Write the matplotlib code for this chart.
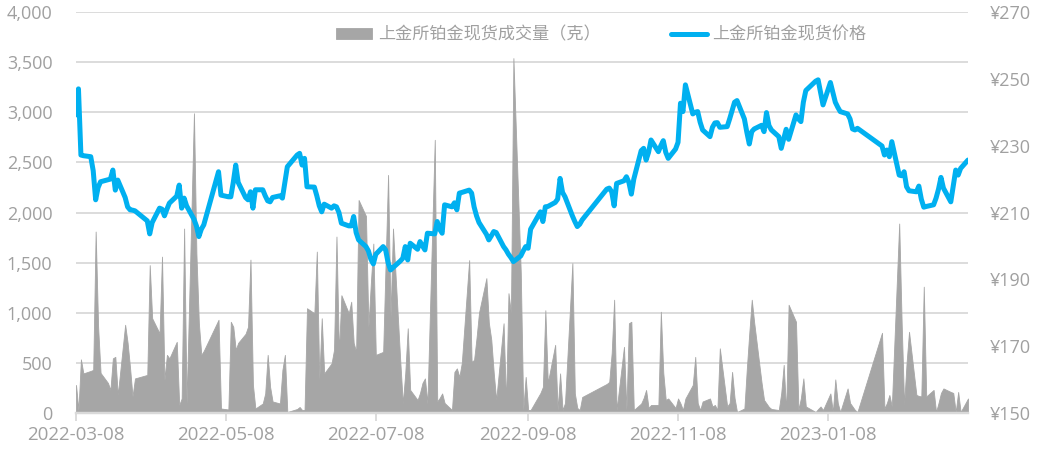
import matplotlib
matplotlib.use("Agg")
import matplotlib.pyplot as plt
import pandas as pd
from matplotlib.ticker import FuncFormatter, FixedLocator

plt.rcParams['font.family'] = ['Noto Sans CJK SC', 'DejaVu Sans']

# ---------------- data ----------------
dates_2022 = [
    "03-08","03-09","03-10","03-11","03-14","03-15","03-16","03-17","03-18","03-21","03-22","03-23","03-24","03-25",
    "03-28","03-29","03-30","03-31","04-01","04-06","04-07","04-08","04-11","04-12","04-13","04-14","04-15",
    "04-18","04-19","04-20","04-21","04-22","04-25","04-26","04-27","04-28","04-29","05-05","05-06",
    "05-09","05-10","05-11","05-12","05-13","05-16","05-17","05-18","05-19","05-20","05-23","05-24","05-25","05-26","05-27",
    "05-30","05-31","06-01","06-02","06-06","06-07","06-08","06-09","06-10","06-13","06-14","06-15","06-16","06-17",
    "06-20","06-21","06-22","06-23","06-24","06-27","06-28","06-29","06-30","07-01","07-04","07-05","07-06","07-07","07-08",
    "07-11","07-12","07-13","07-14","07-15","07-18","07-19","07-20","07-21","07-22","07-25","07-26","07-27","07-28","07-29",
    "08-01","08-02","08-03","08-04","08-05","08-08","08-09","08-10","08-11","08-12","08-15","08-16","08-17","08-18","08-19",
    "08-22","08-23","08-24","08-25","08-26","08-29","08-30","08-31","09-01","09-02","09-05","09-06","09-07","09-08","09-09",
    "09-13","09-14","09-15","09-16","09-19","09-20","09-21","09-22","09-23","09-26","09-27","09-28","09-29","09-30",
    "10-10","10-11","10-12","10-13","10-14","10-17","10-18","10-19","10-20","10-21","10-24","10-25","10-26","10-27","10-28",
    "10-31","11-01","11-02","11-03","11-04","11-07","11-08","11-09","11-10","11-11","11-14","11-15","11-16","11-17","11-18",
    "11-21","11-22","11-23","11-24","11-25","11-28","11-29","11-30","12-01","12-02","12-05","12-06","12-07","12-08","12-09",
    "12-12","12-13","12-14","12-15","12-16","12-19","12-20","12-21","12-22","12-23","12-26","12-27","12-28","12-29","12-30",
]
dates_2023 = [
    "01-03","01-04","01-05","01-06","01-09","01-10","01-11","01-12","01-13","01-16","01-17","01-18","01-19","01-20",
    "01-30","01-31","02-01","02-02","02-03","02-06","02-07","02-08","02-09","02-10","02-13","02-14","02-15","02-16","02-17",
    "02-20","02-21","02-22","02-23","02-24","02-27","02-28","03-01","03-02","03-03","03-06",
]

price = [
    239.2,247.0,227.2,227.0,226.7,222.5,213.8,217.5,219.2,219.8,220.0,222.7,216.7,219.7,
    214.5,211.7,210.8,210.7,210.5,207.5,203.6,207.0,211.3,211.0,209.0,211.0,212.8,
    214.9,218.2,211.3,214.3,212.0,208.0,206.0,202.8,205.0,206.3,222.2,215.2,
    214.7,214.7,219.0,224.2,219.0,214.5,213.8,216.2,211.3,216.8,216.8,215.0,213.5,213.2,214.5,
    215.0,214.3,219.0,223.7,227.2,227.7,224.2,226.2,217.7,217.6,215.0,212.0,210.2,212.5,
    211.3,212.0,211.7,210.0,206.8,206.0,206.0,208.8,204.0,201.8,199.8,198.5,196.0,194.6,197.5,
    199.8,198.8,195.0,192.8,193.5,195.5,196.3,199.8,195.8,200.8,199.0,201.3,200.0,198.8,203.8,
    203.6,207.3,205.0,203.8,212.3,211.7,212.9,210.8,215.8,216.0,216.7,215.8,211.7,209.0,207.0,
    203.5,201.8,203.0,204.3,204.0,199.8,198.8,197.5,196.5,195.3,197.0,198.5,199.8,199.3,205.0,
    210.2,207.3,211.7,211.8,213.0,214.0,220.2,216.0,214.7,209.0,207.3,205.8,206.5,207.8,
    217.0,217.3,216.2,212.0,218.7,219.5,220.7,219.0,215.5,220.0,228.5,229.2,225.7,228.0,231.7,
    228.2,230.0,231.5,228.0,226.2,229.0,231.0,242.7,240.2,248.2,239.5,240.0,240.2,237.0,234.7,
    232.7,235.5,236.8,236.9,235.5,235.7,238.0,240.5,243.0,243.5,238.0,234.0,230.5,234.2,235.0,
    236.1,234.2,239.9,236.0,234.7,232.7,229.2,232.0,234.9,231.9,239.2,238.0,237.2,243.0,246.5,
    249.3,249.7,246.0,242.2,248.9,246.0,243.0,241.5,240.2,239.5,238.0,235.0,234.7,235.2,
    229.9,227.2,228.7,226.7,231.2,221.2,221.0,222.2,217.7,216.5,216.2,217.9,214.0,211.6,211.8,
    212.3,214.3,217.0,220.5,217.3,213.2,218.0,222.7,221.2,223.2,225.7,
]

volume = [
    280,30,535,395,420,430,1810,860,400,300,230,545,560,180,
    880,700,450,165,345,380,1475,945,795,1560,330,580,545,
    710,80,145,1840,95,2990,1590,895,580,620,930,45,
    35,910,860,630,700,790,860,1530,280,45,95,195,580,260,115,
    95,430,580,10,40,60,30,30,1045,995,1610,330,945,395,
    495,630,1760,595,1175,995,1110,700,610,2125,1965,860,1300,1690,580,
    610,1500,2375,960,1840,500,95,400,845,230,130,200,300,345,95,
    2725,115,150,195,100,30,410,445,360,500,1525,510,530,750,1000,
    1345,900,730,400,130,895,95,1195,995,3540,1400,30,360,30,30,
    200,260,1025,300,680,30,395,30,100,1495,195,50,30,160,
    290,310,600,1130,30,660,30,895,910,30,95,150,230,50,80,
    80,1010,400,130,145,50,145,95,30,145,280,560,100,30,115,
    145,65,80,30,645,65,100,410,150,10,45,445,800,1130,900,
    300,130,95,60,40,30,200,480,10,1080,910,30,150,345,65,
    10,40,65,30,195,10,335,100,10,245,100,65,30,10,
    800,45,100,180,65,1890,900,80,500,810,180,170,165,1260,165,
    230,10,100,200,245,210,200,10,210,10,145,
]

x_tick_labels = ["2022-03-08", "2022-05-08", "2022-07-08", "2022-09-08", "2022-11-08", "2023-01-08"]
vol_ticks = [0, 500, 1000, 1500, 2000, 2500, 3000, 3500, 4000]
price_ticks = [150, 170, 190, 210, 230, 250, 270]

vol_label = "上金所铂金现货成交量（克）"
price_label = "上金所铂金现货价格"

# ---------------- plot ----------------
dates = pd.to_datetime(["2022-" + d for d in dates_2022] + ["2023-" + d for d in dates_2023])

GRAY_TXT = "#a0a0a0"
GRID = "#d9d9d9"
FILL = "#a6a6a6"
BLUE = "#00b0f0"
TICK_FONT = ['Open Sans', 'DejaVu Sans']

fig = plt.figure(figsize=(10.41, 4.58), dpi=100)
ax = fig.add_axes([76/1041, 1-413/458, (968-76)/1041, (413-12)/458])
ax2 = ax.twinx()

ax.fill_between(dates, volume, 0, color=FILL, linewidth=0.6, edgecolor=FILL, zorder=2,
                label=vol_label)
ax2.plot(dates, price, color=BLUE, linewidth=3.6, solid_joinstyle='round',
         solid_capstyle='round', zorder=3, label=price_label)

ax.set_xlim(dates[0], dates[-1])
ax.set_ylim(0, 4000)
ax2.set_ylim(150, 270)

ax.yaxis.set_major_locator(FixedLocator(vol_ticks))
ax.yaxis.set_major_formatter(FuncFormatter(lambda v, p: f"{int(v):,}"))
ax2.yaxis.set_major_locator(FixedLocator(price_ticks))
ax2.yaxis.set_major_formatter(FuncFormatter(lambda v, p: f"¥{int(v)}"))

xt = pd.to_datetime(x_tick_labels)
ax.set_xticks(xt)
ax.set_xticklabels(x_tick_labels)

ax.grid(axis='y', color=GRID, linewidth=1.3, zorder=0)
ax.set_axisbelow(True)

for a in (ax, ax2):
    for s in ("top", "left", "right"):
        a.spines[s].set_visible(False)
    a.spines["bottom"].set_color(GRID)
    a.spines["bottom"].set_linewidth(1.6)

ax.tick_params(axis='y', length=0, labelsize=13, labelcolor=GRAY_TXT, pad=17)
ax2.tick_params(axis='y', length=0, labelsize=13, labelcolor=GRAY_TXT, pad=16)
ax.tick_params(axis='x', length=6, width=1.3, color=GRID, labelsize=13.5,
               labelcolor=GRAY_TXT, pad=3)
for lbl in ax.get_xticklabels() + ax.get_yticklabels() + ax2.get_yticklabels():
    lbl.set_fontfamily(TICK_FONT)

h1, l1 = ax.get_legend_handles_labels()
h2, l2 = ax2.get_legend_handles_labels()
leg = ax.legend(h1 + h2, l1 + l2, loc='center', bbox_to_anchor=(0.589, 0.944),
                ncol=2, frameon=False, fontsize=12.3, handlelength=2.1,
                handleheight=0.6, handletextpad=0.35, columnspacing=4.1)
for t in leg.get_texts():
    t.set_color(GRAY_TXT)
leg.set_zorder(10)

fig.savefig("out.png", dpi=100)
